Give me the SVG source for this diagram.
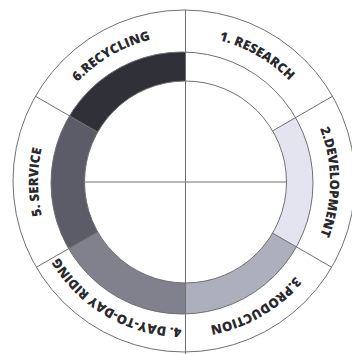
<svg xmlns="http://www.w3.org/2000/svg" xmlns:xlink="http://www.w3.org/1999/xlink" width="352" height="354" viewBox="0 0 352 354">
<style>
.ring{fill:none;stroke:#707070;stroke-width:1}
.line{stroke:#707070;stroke-width:1;fill:none}
.lbl{font-family:"Open Sans","DejaVu Sans",sans-serif;font-weight:800;font-size:13px;fill:#2a2a2e}
</style>
<defs>
<path id="pResearch" d="M158.65,38.22 A146,146 0 0 1 321.19,132.07"/>
<path id="pDevelopment" d="M295.84,88.15 A146,146 0 0 1 295.84,275.85"/>
<path id="pProduction" d="M321.19,231.93 A146,146 0 0 1 158.65,325.78"/>
<path id="pDay" d="M257,308.44 A146,146 0 0 1 38,182"/>
<path id="pService" d="M72.16,275.85 A146,146 0 0 1 72.16,88.15"/>
<path id="pRecycling" d="M46.81,132.07 A146,146 0 0 1 209.35,38.22"/>
</defs>
<rect width="352" height="354" fill="#ffffff"/>
<g id="research">
<text class="lbl"><textPath xlink:href="#pResearch" href="#pResearch" startOffset="50%" text-anchor="middle">1. RESEARCH</textPath></text>
</g>
<g id="development">
<path d="M295.5,117.6 A131,131 0 0 1 296.4,246.9 L272.6,233.1 A101,101 0 0 0 272.6,130.9 Z" fill="#e3e4ef"/>
<text class="lbl"><textPath xlink:href="#pDevelopment" href="#pDevelopment" startOffset="50%" text-anchor="middle">2.DEVELOPMENT</textPath></text>
</g>
<g id="production">
<path d="M296.4,246.9 A131,131 0 0 1 185.5,314 L185.5,283 A101,101 0 0 0 272.6,233.1 Z" fill="#aeafbd"/>
<text class="lbl"><textPath xlink:href="#pProduction" href="#pProduction" startOffset="50%" text-anchor="middle">3.PRODUCTION</textPath></text>
</g>
<g id="day-to-day-riding">
<path d="M185.5,314 A131,131 0 0 1 68.6,248.6 L97.7,231.9 A101,101 0 0 0 185.5,283 Z" fill="#80818d"/>
<text class="lbl"><textPath xlink:href="#pDay" href="#pDay" startOffset="50%" text-anchor="middle">4. DAY-TO-DAY RIDING</textPath></text>
</g>
<g id="service">
<path d="M68.6,248.6 A131,131 0 0 1 69.5,115.9 L97.7,132.1 A101,101 0 0 0 97.7,231.9 Z" fill="#5b5c68"/>
<text class="lbl"><textPath xlink:href="#pService" href="#pService" startOffset="50%" text-anchor="middle">5. SERVICE</textPath></text>
</g>
<g id="recycling">
<path d="M69.5,115.9 A131,131 0 0 1 185.5,52.05 L185.5,81 A101,101 0 0 0 97.7,132.1 Z" fill="#2f3038"/>
<text class="lbl"><textPath xlink:href="#pRecycling" href="#pRecycling" startOffset="50%" text-anchor="middle">6.RECYCLING</textPath></text>
</g>
<g id="rings">
<circle class="ring" cx="184" cy="181" r="171"/>
<circle class="ring" cx="182" cy="183" r="131"/>
<circle class="ring" cx="185.5" cy="182" r="101"/>
</g>
<g id="connectors">
<line class="line" x1="185.5" y1="10" x2="185.5" y2="354"/>
<line class="line" x1="84.5" y1="182" x2="286.5" y2="182"/>
<line class="line" x1="272.6" y1="130.9" x2="332.5" y2="96.25"/>
<line class="line" x1="272.6" y1="233.1" x2="331.65" y2="267.25"/>
<line class="line" x1="97.7" y1="231.9" x2="36.35" y2="267.25"/>
<line class="line" x1="97.7" y1="132.1" x2="35.48" y2="96.25"/>
</g>
</svg>
